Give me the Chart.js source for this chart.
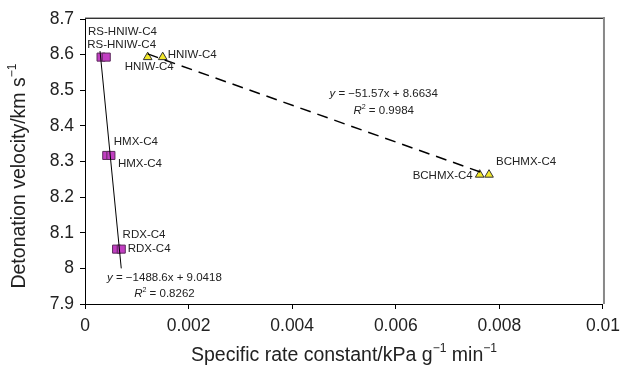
<!DOCTYPE html>
<html>
<head>
<meta charset="utf-8">
<script src="https://cdn.jsdelivr.net/npm/chart.js@4.4.0/dist/chart.umd.min.js"></script>
<style>
  html, body { margin: 0; padding: 0; background: #fff; }
  #wrap { width: 627px; height: 368px; }
</style>
</head>
<body>
<div id="wrap"><canvas id="rateChart"></canvas></div>
<script>
// values
const squareX = [0.00031, 0.00041, 0.00042, 0.0005, 0.00061, 0.0007];
const squareY = [8.593, 8.593, 8.317, 8.317, 8.054, 8.054];
const squareNames = ['RS-HNIW-C4', 'RS-HNIW-C4', 'HMX-C4', 'HMX-C4', 'RDX-C4', 'RDX-C4'];

const triangleX = [0.00121, 0.0015, 0.00762, 0.0078];
const triangleY = [8.593, 8.593, 8.263, 8.263];
const triangleNames = ['HNIW-C4', 'HNIW-C4', 'BCHMX-C4', 'BCHMX-C4'];

// trend line end points
const solidFitX = [0.00029, 0.0007];
const solidFitY = [8.61, 8.0];
const dashedFitX = [0.00121, 0.00766];
const dashedFitY = [8.602, 8.269];

const xTicks = [0, 0.002, 0.004, 0.006, 0.008, 0.01];
const yTicks = [7.9, 8.0, 8.1, 8.2, 8.3, 8.4, 8.5, 8.6, 8.7];

// fit equations, anchored in data units
const fitNotes = [
    { x: 0.005766, y: 8.4893, eq: '\u221251.57x + 8.6634', r2: '0.9984', ry: 8.4416 },
    { x: 0.001533, y: 7.9725, eq: '\u22121488.6x + 9.0418', r2: '0.8262', ry: 7.9275 }
];

// label offsets in px from the point: [dx, dy, align]
const squareLabelPos = [[-13, -25, 'left'], [-19, -12, 'left'], [7, -14, 'left'], [7, 8, 'left'], [6, -14, 'left'], [6.5, 0, 'left']];
const triangleLabelPos = [[-23, 10, 'left'], [5, -2, 'left'], [-7, 1.5, 'right'], [7, -13, 'left']];

const FONT = '"Liberation Sans", Arial, Helvetica, sans-serif';
const TEXT = '#222';

function toPoints(xs, ys) {
    return xs.map((x, i) => ({ x: x, y: ys[i] }));
}

// draws text made of plain / italic / superscript pieces
function drawRich(ctx, parts, x, y, size, align) {
    const widths = parts.map(p => {
        const s = p.sup ? size * 0.62 : size;
        ctx.font = (p.italic ? 'italic ' : '') + s + 'px ' + FONT;
        return ctx.measureText(p.t).width;
    });
    const total = widths.reduce((a, b) => a + b, 0);
    let cx = align === 'center' ? x - total / 2 : (align === 'right' ? x - total : x);
    ctx.textAlign = 'left';
    ctx.textBaseline = 'middle';
    parts.forEach((p, i) => {
        const s = p.sup ? size * 0.62 : size;
        ctx.font = (p.italic ? 'italic ' : '') + s + 'px ' + FONT;
        ctx.fillText(p.t, cx, p.sup ? y - size * 0.38 : y);
        cx += widths[i];
    });
}

const annotatePlugin = {
    id: 'annotate',
    afterDraw(chart) {
        const ctx = chart.ctx;
        const area = chart.chartArea;
        const xs = chart.scales.x, ys = chart.scales.y;
        ctx.save();

        // top and right frame
        ctx.lineWidth = 1;
        ctx.strokeStyle = '#aaa';
        ctx.beginPath(); ctx.moveTo(area.left, area.top - 1.5); ctx.lineTo(area.right, area.top - 1.5); ctx.stroke();
        ctx.strokeStyle = '#333';
        ctx.beginPath(); ctx.moveTo(area.left, area.top - 0.5); ctx.lineTo(area.right, area.top - 0.5); ctx.stroke();
        ctx.strokeStyle = '#888';
        ctx.lineWidth = 2;
        ctx.beginPath(); ctx.moveTo(area.right + 1, area.top - 2); ctx.lineTo(area.right + 1, area.bottom); ctx.stroke();

        ctx.fillStyle = TEXT;

        // point labels
        const sq = chart.getDatasetMeta(2).data;
        sq.forEach((el, i) => {
            const o = squareLabelPos[i];
            drawRich(ctx, [{ t: squareNames[i] }], el.x + o[0], el.y + o[1], 11.5, o[2]);
        });
        const tr = chart.getDatasetMeta(3).data;
        tr.forEach((el, i) => {
            const o = triangleLabelPos[i];
            drawRich(ctx, [{ t: triangleNames[i] }], el.x + o[0], el.y + o[1], 11.5, o[2]);
        });

        // fit equations
        fitNotes.forEach(n => {
            drawRich(ctx, [{ t: 'y', italic: true }, { t: ' = ' + n.eq }],
                xs.getPixelForValue(n.x), ys.getPixelForValue(n.y), 11.5, 'center');
            drawRich(ctx, [{ t: 'R', italic: true }, { t: '2', sup: true }, { t: ' = ' + n.r2 }],
                xs.getPixelForValue(n.x), ys.getPixelForValue(n.ry), 11.5, 'center');
        });

        // axis titles
        drawRich(ctx, [{ t: 'Specific rate constant/kPa g' }, { t: '\u22121', sup: true }, { t: ' min' }, { t: '\u22121', sup: true }],
            (area.left + area.right) / 2, 356, 19.5, 'center');
        ctx.save();
        ctx.translate(20, 176);
        ctx.rotate(-Math.PI / 2);
        drawRich(ctx, [{ t: 'Detonation velocity/km s' }, { t: '\u22121', sup: true }], 0, 0, 19.5, 'center');
        ctx.restore();

        ctx.restore();
    }
};

const ctx = document.getElementById('rateChart');
new Chart(ctx, {
    type: 'scatter',
    data: {
        datasets: [
            {
                data: toPoints(solidFitX, solidFitY),
                showLine: true, borderColor: '#000', borderWidth: 1,
                pointRadius: 0
            },
            {
                data: toPoints(dashedFitX, dashedFitY),
                showLine: true, borderColor: '#000', borderWidth: 1.5,
                borderDash: [11, 7], pointRadius: 0
            },
            {
                data: toPoints(squareX, squareY),
                pointStyle: 'rect', pointRadius: 5.7,
                backgroundColor: '#c23ec2', borderColor: '#5a2a5a', borderWidth: 1
            },
            {
                data: toPoints(triangleX, triangleY),
                pointStyle: 'triangle', pointRadius: 5,
                backgroundColor: '#f2e82a', borderColor: '#333', borderWidth: 1
            }
        ]
    },
    options: {
        responsive: true, maintainAspectRatio: false, animation: false,
        layout: { padding: { top: 19, right: 20, left: 0, bottom: 0 } },
        plugins: { legend: { display: false }, tooltip: { enabled: false } },
        scales: {
            x: {
                type: 'linear', min: 0, max: 0.01,
                afterBuildTicks: s => { s.ticks = xTicks.map(v => ({ value: v })); },
                afterFit: s => { s.height = 64; },
                grid: { drawOnChartArea: false, tickLength: 5, color: '#000' },
                border: { color: '#000', width: 1 },
                ticks: {
                    padding: 7, color: TEXT, maxRotation: 0,
                    font: { family: FONT, size: 17.5 },
                    callback: v => String(parseFloat(v.toFixed(3)))
                }
            },
            y: {
                type: 'linear', min: 7.9, max: 8.7,
                afterBuildTicks: s => { s.ticks = yTicks.map(v => ({ value: v })); },
                afterFit: s => { s.width = 85; },
                grid: { drawOnChartArea: false, tickLength: 5, color: '#000' },
                border: { color: '#000', width: 1 },
                ticks: {
                    padding: 6, color: TEXT,
                    font: { family: FONT, size: 17.5 },
                    callback: v => String(parseFloat(v.toFixed(1)))
                }
            }
        }
    },
    plugins: [annotatePlugin]
});
</script>
</body>
</html>
